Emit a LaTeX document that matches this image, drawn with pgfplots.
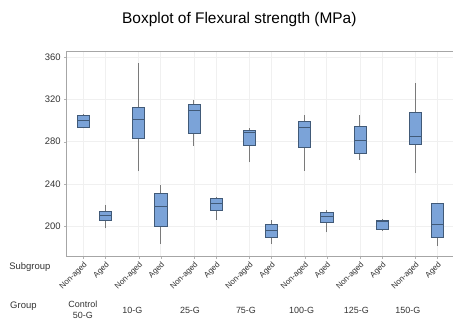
\documentclass[border=0pt]{standalone}
\usepackage{pgfplots}
\pgfplotsset{compat=1.18}
\usepgfplotslibrary{statistics}
\usepackage{fontspec}
\setmainfont{Liberation Sans}
\definecolor{boxfill}{HTML}{7BA3D8}
\definecolor{boxedge}{HTML}{415A78}
\definecolor{whisk}{HTML}{7A7A7A}
\definecolor{txt}{HTML}{333333}
\pgfplotsset{
  bx/.style={draw=boxedge, fill=boxfill, line width=0.7pt,
    boxplot/draw direction=y,
    boxplot/every whisker/.style={draw=whisk, line width=1pt},
    boxplot/every median/.style={draw=boxedge, line width=0.8pt},
    boxplot/box extend=0.55, boxplot/whisker extend=0},
}
\begin{document}
\begin{tikzpicture}
\begin{axis}[
  scale only axis, width=386bp, height=205.7bp,
  xmin=-0.75, xmax=16.69, ymin=171, ymax=366,
  ytick={200,240,280,320,360},
  xtick={0,1,2.5,3.5,5,6,7.5,8.5,10,11,12.5,13.5,15,16},
  xticklabels={Non-aged,Aged,Non-aged,Aged,Non-aged,Aged,Non-aged,Aged,Non-aged,Aged,Non-aged,Aged,Non-aged,Aged},
  xticklabel style={rotate=45, anchor=north east, font=\fontsize{8}{9}\selectfont, text=txt, inner sep=1pt},
  yticklabel style={font=\fontsize{9.5}{11}\selectfont, text=txt},
  /pgf/number format/assume math mode=true,
  xmajorgrids, ymajorgrids, grid style={draw=gray!12, line width=0.6pt},
  axis line style={draw=none},
  tick pos=left,
  tick align=outside, major tick length=2.5bp, tick style={draw=gray!60},
  clip=false,
]
\addplot[bx, boxplot prepared={draw position=0, lower whisker=292.6, lower quartile=293.6, median=299.9, upper quartile=305.0, upper whisker=306.2}] coordinates {};
\addplot[bx, boxplot prepared={draw position=1, lower whisker=197.8, lower quartile=205.3, median=209.7, upper quartile=213.9, upper whisker=220.2}] coordinates {};
\addplot[bx, boxplot prepared={draw position=2.5, lower whisker=251.8, lower quartile=283.2, median=301.2, upper quartile=312.6, upper whisker=354.3}] coordinates {};
\addplot[bx, boxplot prepared={draw position=3.5, lower whisker=182.9, lower quartile=199.3, median=218.3, upper quartile=230.6, upper whisker=238.8}] coordinates {};
\addplot[bx, boxplot prepared={draw position=5, lower whisker=275.8, lower quartile=287.5, median=309.7, upper quartile=315.7, upper whisker=319.2}] coordinates {};
\addplot[bx, boxplot prepared={draw position=6, lower whisker=205.6, lower quartile=215.1, median=221.5, upper quartile=225.9, upper whisker=227.7}] coordinates {};
\addplot[bx, boxplot prepared={draw position=7.5, lower whisker=260.4, lower quartile=276.8, median=288.5, upper quartile=291.0, upper whisker=292.6}] coordinates {};
\addplot[bx, boxplot prepared={draw position=8.5, lower whisker=182.9, lower quartile=189.8, median=196.1, upper quartile=201.5, upper whisker=205.6}] coordinates {};
\addplot[bx, boxplot prepared={draw position=10, lower whisker=252.4, lower quartile=274.2, median=293.6, upper quartile=298.9, upper whisker=305.0}] coordinates {};
\addplot[bx, boxplot prepared={draw position=11, lower whisker=194.0, lower quartile=204.0, median=208.8, upper quartile=213.5, upper whisker=215.1}] coordinates {};
\addplot[bx, boxplot prepared={draw position=12.5, lower whisker=262.6, lower quartile=268.9, median=281.5, upper quartile=294.8, upper whisker=305.0}] coordinates {};
\addplot[bx, boxplot prepared={draw position=13.5, lower whisker=195.5, lower quartile=197.1, median=204.5, upper quartile=205.3, upper whisker=206.3}] coordinates {};
\addplot[bx, boxplot prepared={draw position=15, lower whisker=249.9, lower quartile=277.7, median=285.3, upper quartile=307.4, upper whisker=335.3}] coordinates {};
\addplot[bx, boxplot prepared={draw position=16, lower whisker=181.0, lower quartile=189.2, median=201.5, upper quartile=221.5, upper whisker=221.5}] coordinates {};
% frame
\draw[gray!70, line width=0.8pt] (rel axis cs:1,1) -- (rel axis cs:0,1) -- (rel axis cs:0,0) -- (rel axis cs:1,0);
% title
\node[anchor=base, font=\fontsize{15.5}{18}\selectfont, text=black] at (axis cs:7.05,392.2) {Boxplot of Flexural strength (MPa)};
% row labels
\node[anchor=west, font=\fontsize{9.5}{11}\selectfont, text=txt, inner sep=0pt] at (axis cs:-3.35,161) {Subgroup};
\node[anchor=west, font=\fontsize{9.5}{11}\selectfont, text=txt, inner sep=0pt] at (axis cs:-3.31,124.3) {Group};
\begin{scope}[every node/.style={font=\fontsize{9}{11}\selectfont, text=txt, inner sep=0pt, align=center}]
\node at (axis cs:-0.02,120.5) {Control\\50-G};
\node at (axis cs:2.22,119.8) {10-G};
\node at (axis cs:4.82,119.8) {25-G};
\node at (axis cs:7.35,119.8) {75-G};
\node at (axis cs:9.86,119.8) {100-G};
\node at (axis cs:12.34,119.8) {125-G};
\node at (axis cs:14.66,119.8) {150-G};
\end{scope}
\end{axis}
\pgfresetboundingbox
\path[use as bounding box] (current axis.south west) ++(-66.7bp,-65.3bp) rectangle ++(454bp,322bp);
\end{tikzpicture}
\end{document}
